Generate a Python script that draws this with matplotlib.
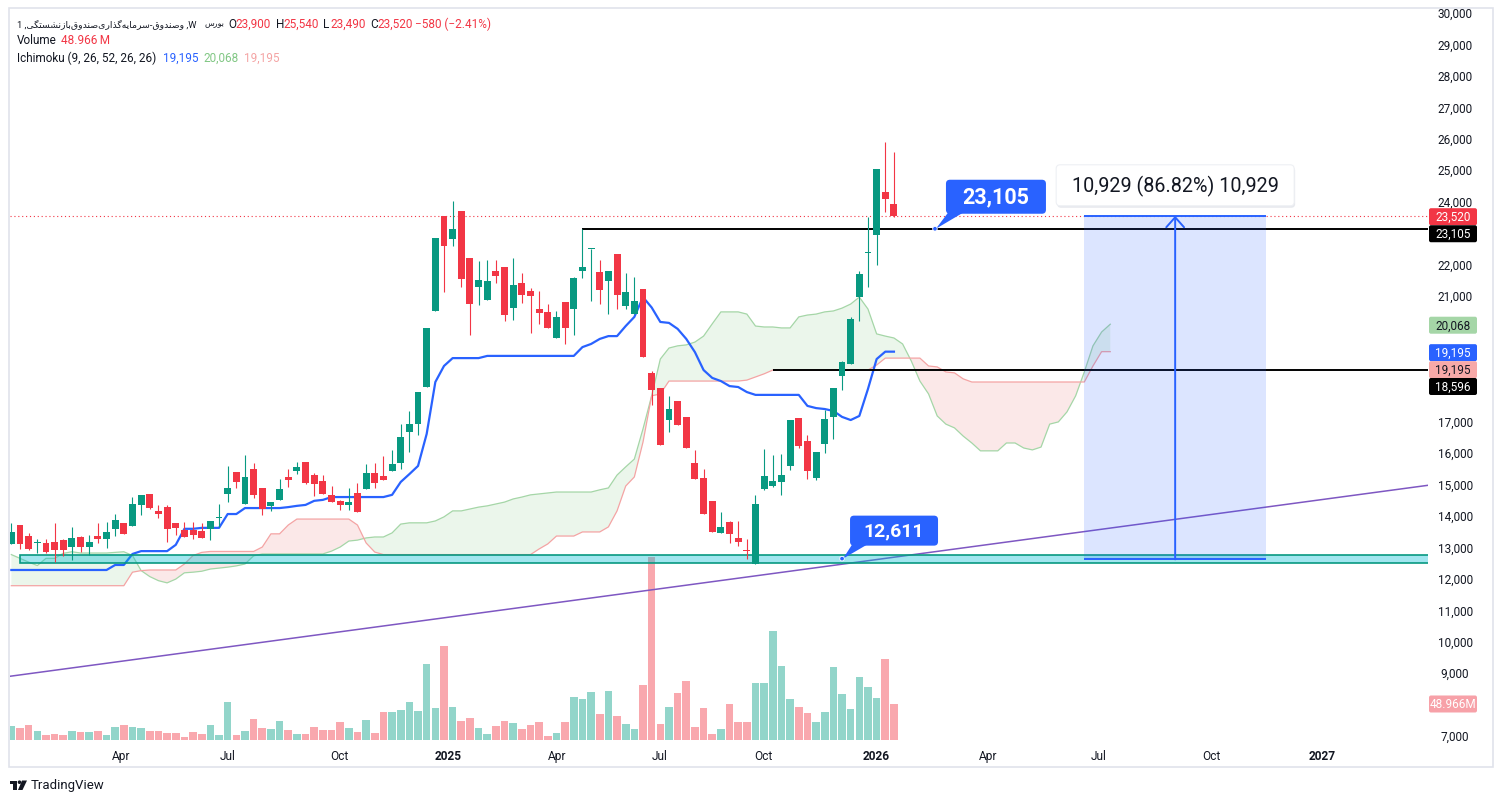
import numpy as np
import matplotlib
matplotlib.use("Agg")
from matplotlib import pyplot
from matplotlib.colors import to_rgba
from matplotlib.patches import Rectangle, FancyBboxPatch, Polygon, Circle

pyplot.rcParams['font.family'] = ['Roboto', 'DejaVu Sans']

# weekly candles, oldest first
opens = [13080, 13680, 13340, 13120, 13110, 13150, 13200, 12980, 13310, 12980,
         13340, 13240, 13550, 13750, 13650, 14320, 14670, 14130, 14250, 13750,
         13520, 13520, 13490, 13550, 13900, 14670, 15370, 14350, 15460, 14860,
         14290, 14480, 15210, 15400, 15690, 15270, 15080, 14640, 14450, 14320,
         14700, 14830, 15340, 15240, 15400, 15650, 16640, 16890, 18080, 20500,
         23510, 22780, 23670, 22180, 21260, 20850, 21760, 21890, 20590, 21380,
         21130, 20550, 20460, 19640, 20780, 20560, 21770, 22460, 21730, 21450,
         22300, 20660, 20400, 21190, 18520, 18040, 17030, 17630, 17120, 15660,
         15190, 14460, 13440, 13780, 13280, 12870, 12450, 14830, 14920, 15060,
         15570, 17090, 16350, 15180, 16270, 17130, 18430, 18810, 20920, 22340,
         22920, 24280, 23900]
highs = [13750, 13680, 13430, 13240, 13240, 13750, 13240, 13620, 13340, 13360,
         13750, 13780, 14030, 13760, 14570, 14640, 14670, 14320, 14320, 13750,
         13780, 13780, 13750, 13810, 14350, 15560, 15370, 15910, 15650, 14860,
         14410, 15150, 15460, 15690, 15690, 15340, 15270, 14920, 14480, 14860,
         15020, 15620, 15650, 15880, 16070, 16890, 17310, 17910, 19950, 22810,
         23510, 23990, 23670, 22180, 22080, 22110, 22110, 21890, 22180, 21700,
         21220, 21130, 20710, 20490, 20780, 21570, 23105, 22470, 22110, 21760,
         22300, 21700, 21570, 21190, 18580, 18040, 17790, 17630, 17120, 16080,
         15470, 14460, 14100, 13810, 13810, 13250, 14650, 16110, 15920, 15950,
         17020, 17090, 16550, 16010, 17340, 18040, 18900, 20300, 21760, 23480,
         25010, 25870, 25540]
lows = [13080, 12920, 12890, 12790, 12790, 12510, 12710, 12570, 12810, 12730,
        13110, 12950, 13330, 13380, 13650, 14000, 14190, 13900, 13140, 13360,
        13300, 13240, 13270, 13200, 13620, 14410, 14860, 14350, 14540, 14000,
        14130, 14480, 14890, 15300, 14990, 14600, 14670, 14410, 14160, 14160,
        14100, 14830, 14860, 15110, 15400, 15460, 16000, 16550, 18070, 20500,
        21100, 22570, 21260, 19740, 20690, 20850, 21390, 20180, 20210, 20750,
        19800, 20090, 19960, 19640, 19450, 19740, 21550, 20820, 20720, 20400,
        20560, 20560, 20400, 19040, 17510, 16240, 16650, 16870, 16140, 15150,
        14040, 13470, 13440, 13120, 13020, 12610, 12450, 14800, 14900, 14650,
        15440, 16120, 15150, 15120, 15980, 16430, 17990, 18810, 20180, 21260,
        21960, 23650, 23490]
closes = [13470, 13080, 12920, 13140, 12830, 12900, 12900, 13270, 12980, 13140,
          13240, 13460, 13840, 13390, 14350, 14640, 14220, 14030, 13550, 13590,
          13300, 13360, 13270, 13810, 13910, 14860, 15050, 15210, 14640, 14190,
          14410, 14830, 15110, 15530, 15020, 14990, 14670, 14410, 14320, 14410,
          14100, 15340, 15020, 15110, 15620, 16480, 16890, 17910, 19950, 22810,
          22570, 23100, 21520, 20720, 21480, 21440, 21610, 20370, 21320, 21010,
          20980, 20440, 19960, 20300, 19960, 21540, 21890, 22460, 21170, 21760,
          21010, 21090, 20810, 19040, 17990, 16240, 17370, 16870, 16140, 15150,
          14040, 13470, 13620, 13400, 13150, 12860, 14360, 15240, 15090, 15270,
          17020, 16200, 15410, 16010, 17050, 18040, 18870, 20230, 21670, 22350,
          25010, 24060, 23520]
# volume in millions
volumes = [19.0, 16.3, 20.4, 12.2, 6.8, 8.2, 6.8, 12.2, 10.9, 10.9,
           12.2, 6.8, 17.7, 20.4, 17.7, 16.3, 12.2, 12.2, 9.5, 9.5,
           4.1, 10.9, 8.2, 20.4, 6.8, 51.7, 6.8, 12.2, 28.6, 16.3,
           15.0, 25.8, 13.6, 8.2, 8.2, 17.7, 13.6, 13.6, 24.5, 16.3,
           10.9, 27.2, 9.5, 38.1, 38.1, 40.8, 51.7, 39.4, 103.4, 43.5,
           127.8, 44.9, 25.8, 29.9, 16.3, 8.2, 19.0, 25.8, 23.1, 15.0,
           20.4, 24.5, 5.4, 9.5, 24.5, 58.5, 55.8, 65.3, 35.4, 66.6,
           32.6, 21.8, 15.0, 74.8, 248.9, 21.8, 44.9, 63.9, 80.2, 17.7,
           43.5, 8.2, 15.0, 49.0, 24.5, 24.5, 77.5, 77.5, 148.2, 100.6,
           55.8, 44.9, 36.7, 24.5, 38.1, 99.3, 62.6, 42.2, 85.7, 72.1,
           57.1, 110.2, 48.966]
# ichimoku: blue base line, leading spans (run 25 bars past the last candle)
base_line = [12250, 12250, 12250, 12250, 12250, 12250, 12250, 12250, 12250, 12250,
             12250, 12250, 12410, 12410, 12760, 12850, 12850, 12850, 12850, 13050,
             13560, 13560, 13590, 13590, 13590, 14030, 14030, 14220, 14220, 14220,
             14220, 14220, 14250, 14290, 14320, 14450, 14480, 14570, 14570, 14570,
             14570, 14570, 14570, 14570, 14640, 15050, 15300, 15560, 16580, 18230,
             18740, 18990, 18990, 18990, 18990, 19060, 19060, 19060, 19060, 19060,
             19060, 19060, 19060, 19060, 19060, 19060, 19340, 19440, 19600, 19690,
             19690, 20010, 20300, 20930, 20600, 20140, 20110, 19920, 19600, 19180,
             18610, 18360, 18260, 18100, 18070, 17910, 17820, 17820, 17820, 17820,
             17820, 17820, 17470, 17400, 17370, 17310, 17120, 17020, 17150, 18010,
             18960, 19195, 19195]
span_a = [12740, 12620, 12500, 12390, 12620, 12620, 12780, 12830, 12790, 12790,
          12790, 12790, 12810, 12830, 12710, 12230, 12040, 11910, 11840, 11960,
          12160, 12180, 12210, 12280, 12310, 12340, 12380, 12440, 12700, 12760,
          12760, 12760, 12760, 12760, 12760, 12760, 12760, 12850, 12980, 13170,
          13200, 13270, 13300, 13300, 13430, 13710, 13750, 13750, 13750, 13810,
          13940, 14130, 14130, 14190, 14250, 14290, 14350, 14410, 14510, 14570,
          14640, 14670, 14700, 14730, 14730, 14730, 14730, 14730, 14800, 14860,
          15270, 15530, 15780, 16740, 17790, 18960, 19310, 19380, 19410, 19500,
          19690, 20080, 20460, 20460, 20460, 20390, 20010, 19980, 19980, 19950,
          19950, 20300, 20360, 20390, 20460, 20490, 20580, 20710, 20930, 20550,
          19760, 19690, 19630, 19440, 18900, 18260, 17850, 17150, 16890, 16770,
          16510, 16290, 16040, 16040, 16040, 16290, 16290, 16130, 16070, 16160,
          16890, 16960, 17280, 17790, 18550, 19380, 19820, 20068]
span_b = [11750, 11750, 11750, 11750, 11750, 11750, 11750, 11750, 11750, 11750,
          11750, 11750, 11750, 11750, 12180, 12230, 12250, 12250, 12250, 12250,
          12440, 12710, 12810, 12840, 12840, 12840, 12840, 12840, 12840, 12980,
          13400, 13400, 13680, 13870, 13870, 13870, 13870, 13870, 13870, 13870,
          13680, 13110, 12820, 12740, 12740, 12740, 12740, 12740, 12740, 12740,
          12740, 12740, 12740, 12740, 12740, 12740, 12740, 12740, 12740, 12740,
          12740, 12920, 13080, 13330, 13330, 13330, 13460, 13460, 13460, 13620,
          14130, 14920, 15210, 16320, 17790, 17850, 18260, 18260, 18260, 18260,
          18260, 18260, 18260, 18260, 18260, 18290, 18390, 18490, 18610, 18610,
          18610, 18610, 18610, 18610, 18610, 18610, 18610, 18610, 18610, 18610,
          18770, 18990, 18990, 18990, 18990, 18990, 18740, 18710, 18550, 18520,
          18330, 18230, 18230, 18230, 18230, 18230, 18230, 18230, 18230, 18230,
          18230, 18230, 18230, 18230, 18230, 18740, 19195, 19195]

# drawings on the chart
level_high = 23105       # horizontal line from the April high (bar 66)
level_low = 18596        # horizontal line from bar 88
support_box = (12463, 12727)
support_label = 12611
trend_points = [(0, 8875), (100, 12582)]
measure_from, measure_to = 12588, 23517
last_close = 23520

month_pos = [12.67, 25.04, 37.86, 50.46, 63.06, 74.96, 86.87, 99.93, 112.87, 125.70, 138.64, 151.47]
month_labels = ['Apr', 'Jul', 'Oct', '2025', 'Apr', 'Jul', 'Oct', '2026', 'Apr', 'Jul', 'Oct', '2027']
price_ticks = [7000, 9000, 10000, 11000, 12000, 13000, 14000, 15000, 16000, 17000,
               21000, 22000, 24000, 25000, 26000, 27000, 28000, 29000, 30000]

symbol_name = 'وصندوق-سرمایه‌گذاری‌صندوق‌بازنشستگی'
exchange_name = 'بورس'

GREEN = '#089981'
RED = '#F23645'
BLUE = '#2962FF'
TEXT = '#131722'

FIG_W, FIG_H = 1503, 804
PANE = (10, 9.5, 1428, 742)     # left, top, right, bottom in pixels
X_RANGE = (-0.156, 163.72)
Y_RANGE = (6810, 30111)
VOL_RANGE = (-1.36, 994.8)

# arabic presentation forms: first code point (isolated) and whether the letter joins to the next
FA_FORMS = {
    'ا': (0xFE8D, False), 'ب': (0xFE8F, True), 'ت': (0xFE95, True), 'د': (0xFEA9, False),
    'ذ': (0xFEAB, False), 'ر': (0xFEAD, False), 'ز': (0xFEAF, False), 'س': (0xFEB1, True),
    'ش': (0xFEB5, True), 'ص': (0xFEB9, True), 'ق': (0xFED5, True), 'م': (0xFEE1, True),
    'ن': (0xFEE5, True), 'ه': (0xFEE9, True), 'و': (0xFEED, False), '\u06cc': (0xFBFC, True),
    '\u06af': (0xFB92, True),
}


def shape_fa(text):
    """join persian letters and put them in visual order (matplotlib has no bidi)"""
    text = text.replace('\u064a', '\u06cc').replace('\u0643', '\u06a9')
    out = []
    for i, ch in enumerate(text):
        if ch not in FA_FORMS:
            out.append(ch)
            continue
        base, dual = FA_FORMS[ch]
        prev = text[i - 1] if i > 0 else ''
        nxt = text[i + 1] if i + 1 < len(text) else ''
        join_prev = prev in FA_FORMS and FA_FORMS[prev][1]
        join_next = dual and nxt in FA_FORMS
        out.append(chr(base + (1 if join_prev else 0) + (2 if join_next else 0)))
    return ''.join(reversed(out)).replace('\u200c', '')


def bar_px(b):
    return PANE[0] + (b - X_RANGE[0]) / (X_RANGE[1] - X_RANGE[0]) * (PANE[2] - PANE[0])


def price_px(p):
    return PANE[1] + (Y_RANGE[1] - p) / (Y_RANGE[1] - Y_RANGE[0]) * (PANE[3] - PANE[1])


def vol_px(v):
    return PANE[1] + (VOL_RANGE[1] - v) / (VOL_RANGE[1] - VOL_RANGE[0]) * (PANE[3] - PANE[1])


fig = pyplot.figure(figsize=(FIG_W / 100, FIG_H / 100), dpi=100)
fig.patch.set_facecolor('white')
ax = fig.add_axes([PANE[0] / FIG_W, 1 - PANE[3] / FIG_H,
                   (PANE[2] - PANE[0]) / FIG_W, (PANE[3] - PANE[1]) / FIG_H])
vax = ax.twinx()
ax.set_zorder(2)
vax.set_zorder(1)
ax.patch.set_visible(False)

o = np.array(opens, float)
c = np.array(closes, float)
x = np.arange(len(c))
up = c >= o
candle_colors = np.where(up, GREEN, RED)

# volume
vax.bar(x, volumes, width=0.88, color=np.where(up, '#92D5CA', '#F9A8AE'), linewidth=0)
vax.set_ylim(*VOL_RANGE)
vax.axis('off')

# ichimoku cloud
xs = np.arange(len(span_a))
sa = np.array(span_a, float)
sb = np.array(span_b, float)
ax.fill_between(xs, sa, sb, where=sa >= sb, interpolate=True, color='#A5D6A7', alpha=0.22, lw=0, zorder=1)
ax.fill_between(xs, sa, sb, where=sa < sb, interpolate=True, color='#EF9A9A', alpha=0.22, lw=0, zorder=1)
ax.plot(xs, sa, color='#A5D6A7', lw=0.9, zorder=2)
ax.plot(xs, sb, color='#F4A4A4', lw=0.9, zorder=2)
ax.plot(x, base_line, color=BLUE, lw=1.6, zorder=3, solid_joinstyle='round')

# support zone and trend line
ax.add_patch(Rectangle((1, support_box[0]), 200, support_box[1] - support_box[0],
                       facecolor=to_rgba('#00BCD4', 0.37), edgecolor=GREEN, lw=1.2, zorder=3.5))
ax.axline(trend_points[0], trend_points[1], color='#7E57C2', lw=1.1, zorder=3)

# levels
ax.axhline(last_close, color=RED, lw=0.8, ls=(0, (1, 2.5)), zorder=2)
ax.hlines(level_high, 66, 200, color='black', lw=1.4, zorder=4.5)
ax.hlines(level_low, 88, 200, color='black', lw=1.4, zorder=4.5)

# candles
ax.vlines(x, lows, highs, colors=candle_colors, lw=0.8, zorder=5)
body = np.maximum(np.abs(c - o), 32)
ax.bar(x, body, bottom=np.minimum(o, c), width=0.8, color=candle_colors, linewidth=0, zorder=5)

# price range measurement
ax.add_patch(Rectangle((124, measure_from), 21, measure_to - measure_from,
                       facecolor=to_rgba(BLUE, 0.16), lw=0, zorder=6))
ax.hlines([measure_from, measure_to], 124, 145, color=BLUE, lw=1.4, zorder=6)
ax.annotate('', xy=(134.5, measure_to), xytext=(134.5, measure_from),
            arrowprops=dict(arrowstyle='->,head_length=0.45,head_width=0.4', color=BLUE, lw=1.4,
                            mutation_scale=16, shrinkA=0, shrinkB=0), zorder=7)

ax.set_xlim(*X_RANGE)
ax.set_ylim(*Y_RANGE)
for s in ax.spines.values():
    s.set_visible(False)
ax.set_xticks(month_pos)
ax.set_xticklabels(month_labels)
ax.tick_params(axis='x', length=0, pad=6, labelsize=8.6, labelcolor=TEXT)
for lab in ax.get_xticklabels():
    if lab.get_text().isdigit():
        lab.set_fontweight('bold')
ax.yaxis.tick_right()
ax.set_yticks(price_ticks)
ax.set_yticklabels([f'{t:,}' for t in price_ticks])
ax.tick_params(axis='y', length=0, pad=19.5, labelsize=8.5, labelcolor=TEXT)
for lab in ax.get_yticklabels():
    lab.set_horizontalalignment('center')

# overlay in pixel coordinates for labels outside the data
ov = fig.add_axes([0, 0, 1, 1])
ov.set_xlim(0, FIG_W)
ov.set_ylim(FIG_H, 0)
ov.axis('off')
ov.set_zorder(5)

ov.add_patch(Rectangle((1428, 0), 75, 9, facecolor='white', lw=0))
ov.add_patch(Rectangle((8.5, 9), 1484.5, 759, fill=False, edgecolor='#E0E3EB', lw=1.2))


def callout(bar, price, text, w, h, size, dx, dy):
    ax_px, ay_px = bar_px(bar), price_px(price)
    left, bottom = ax_px + dx, ay_px - dy
    ov.add_patch(Polygon([(left + 2, bottom - 1), (left + 17, bottom - 1), (ax_px + 1, ay_px)],
                         closed=True, facecolor=BLUE, lw=0))
    ov.add_patch(FancyBboxPatch((left, bottom - h), w, h, boxstyle='round,pad=0,rounding_size=4',
                                facecolor=BLUE, lw=0))
    ov.add_patch(Circle((ax_px, ay_px), 2.3, facecolor=BLUE, edgecolor='white', lw=0.6))
    ov.text(left + w / 2, bottom - h / 2, text, color='white', fontsize=size, fontweight='bold',
            ha='center', va='center')


callout(106.74, level_high, f'{level_high:,}', 100, 34, 15.5, 11, 15)
callout(96.0, support_label, f'{support_label:,}', 88, 30, 14, 8, 13)

# measurement label
diff = measure_to - measure_from
mx = bar_px(134.5)
my = price_px(measure_to) - 10
ov.add_patch(FancyBboxPatch((mx - 118, my - 39), 238, 41, boxstyle='round,pad=0,rounding_size=4',
                            facecolor='#D8DBE3', lw=0, alpha=0.6))
ov.add_patch(FancyBboxPatch((mx - 119, my - 41), 238, 41, boxstyle='round,pad=0,rounding_size=4',
                            facecolor='white', edgecolor='#EEF0F4', lw=0.8))
ov.text(mx, my - 20.5, f'{diff:,} ({diff / measure_from * 100:.2f}%) {diff:,}', color=TEXT,
        fontsize=14.2, ha='center', va='center')

# price scale tags: value, price, nudge in px, background, text colour
tags = [(last_close, 1, RED, 'white'),
        (level_high, 5, 'black', 'white'),
        (span_a[-1], 1, '#A5D6A7', TEXT),
        (base_line[-1], 1, BLUE, 'white'),
        (span_b[-1], 18, '#F7A9A8', TEXT),
        (level_low, 16, 'black', 'white')]
for price, nudge, bg, fg in tags:
    yc = price_px(price) + nudge
    ov.add_patch(FancyBboxPatch((1429, yc - 8.5), 48, 17, boxstyle='round,pad=0,rounding_size=2',
                                facecolor=bg, lw=0))
    ov.text(1453, yc, f'{price:,}', color=fg, fontsize=8.5, ha='center', va='center')
yv = vol_px(volumes[-1])
ov.add_patch(FancyBboxPatch((1429, yv - 8.5), 48, 17, boxstyle='round,pad=0,rounding_size=2',
                            facecolor='#F7A1A8', lw=0))
ov.text(1453, yv, f'{volumes[-1]:.3f}M', color='white', fontsize=8.5, ha='center', va='center')

# legend text
renderer = fig.canvas.get_renderer()


def fit_text(xp, yp, s, max_w, size, **kw):
    t = ov.text(xp, yp, s, fontsize=size, **kw)
    w = t.get_window_extent(renderer).width
    if w > max_w:
        t.set_fontsize(size * max_w / w)
    return t


hdr = dict(fontsize=8.5, va='center', color=TEXT)
fit_text(17, 24, '1 ,' + shape_fa(symbol_name) + ' ,W', 180, 8.5, va='center', color=TEXT)
fit_text(224, 24, shape_fa(exchange_name), 20, 8.5, va='center', ha='right', color=TEXT)
for xp, key, val in [(228, 'O', '23,900'), (276, 'H', '25,540'), (323, 'L', '23,490'), (370, 'C', '23,520')]:
    ov.text(xp, 24, key, **hdr)
    ov.text(xp + 7, 24, val, fontsize=8.5, va='center', color=RED)
ov.text(415, 24, '\u2212580 (\u22122.41%)', fontsize=8.5, va='center', color=RED)
ov.text(17, 41, 'Volume', **hdr)
ov.text(61, 41, f'{volumes[-1]:.3f}\u2009M', fontsize=8.5, va='center', color=RED)
ov.text(17, 58, 'Ichimoku (9, 26, 52, 26, 26)', **hdr)
ov.text(163, 58, f'{base_line[-1]:,}', fontsize=8.5, va='center', color=BLUE)
ov.text(203, 58, f'{span_a[-1]:,}', fontsize=8.5, va='center', color='#81C784')
ov.text(244, 58, f'{span_b[-1]:,}', fontsize=8.5, va='center', color='#F4A4A4')

# tradingview mark
ov.add_patch(Rectangle((9.5, 781.5), 7, 3.2, facecolor=TEXT, lw=0))
ov.add_patch(Rectangle((13, 781.5), 3.5, 9.5, facecolor=TEXT, lw=0))
ov.add_patch(Circle((19.5, 783.2), 1.8, facecolor=TEXT, lw=0))
ov.add_patch(Polygon([(22, 781.5), (27, 781.5), (22.5, 791), (18, 791)], closed=True, facecolor=TEXT, lw=0))
ov.text(31, 786, 'TradingView', fontsize=9.5, va='center', color=TEXT)

fig.savefig('out.png', dpi=100, facecolor='white')
